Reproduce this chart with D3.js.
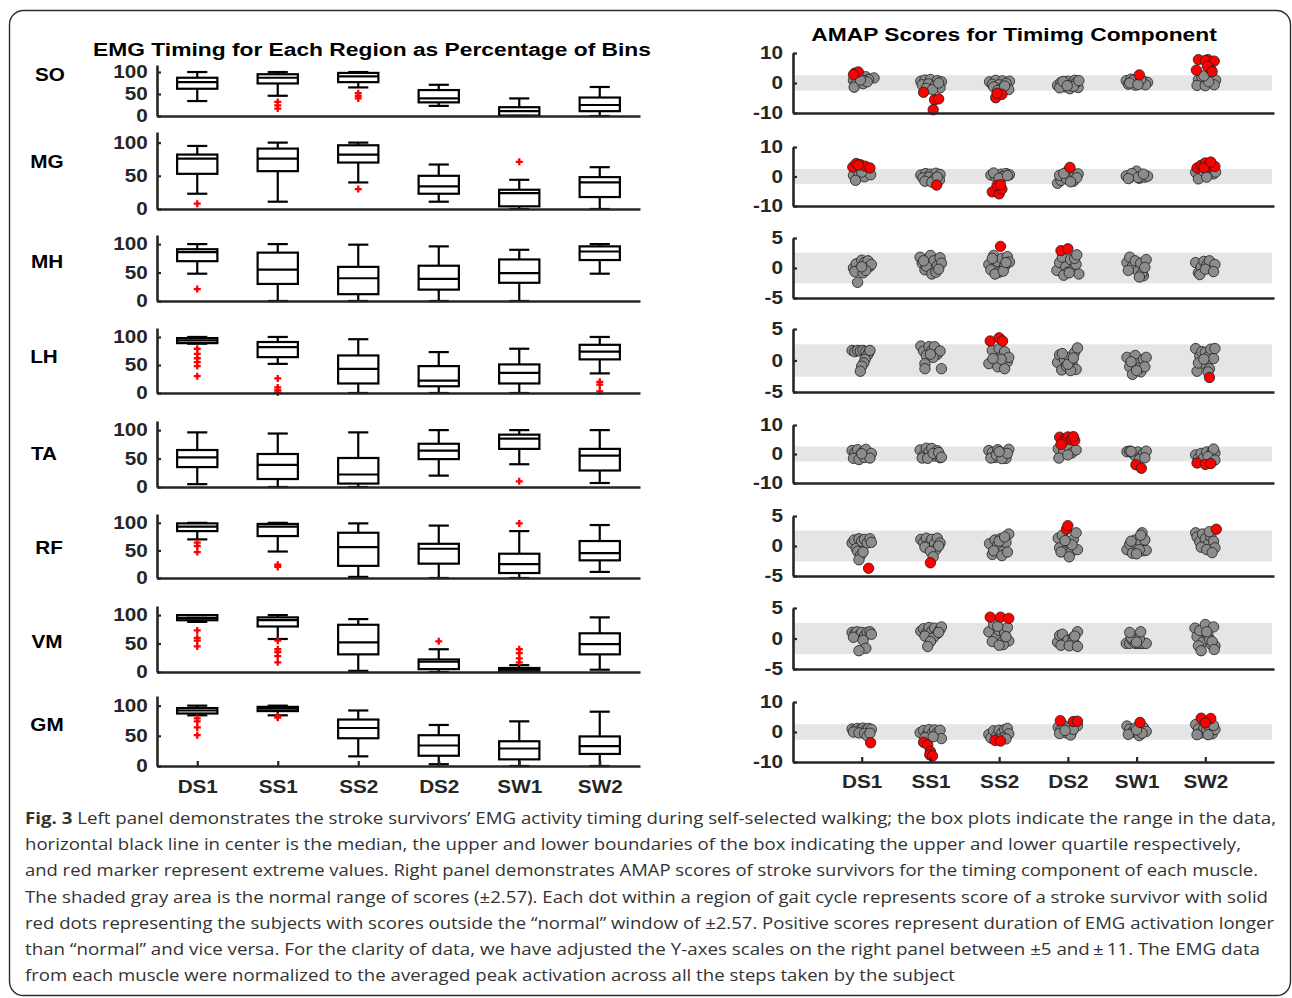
<!DOCTYPE html>
<html>
<head>
<meta charset="utf-8">
<script src="https://cdn.jsdelivr.net/npm/d3@7"></script>
<style>
  html, body { margin: 0; padding: 0; background: #fff; }
  svg { display: block; }
</style>
</head>
<body>
<svg id="fig" width="1292" height="998"></svg>
<script>
// ---------------- data ----------------
const categories = ["DS1", "SS1", "SS2", "DS2", "SW1", "SW2"];
const muscles = ["SO", "MG", "MH", "LH", "TA", "RF", "VM", "GM"];
const pctTicks = [0, 50, 100];

// EMG timing box statistics per phase: [lowerWhisker, q1, median, q3, upperWhisker, outliers]
const boxSO = [[34, 62, 77, 87, 100, []], [46, 74, 87, 95, 100, [32, 24, 17]], [65, 77, 90, 98, 100, [52, 46, 40]],
               [23, 31, 40, 59, 71, []], [0, 1, 11, 20, 40, []], [0, 11, 25, 42, 66, []]];
const boxMG = [[23, 53, 76, 82, 95, [8]], [11, 57, 76, 91, 100, []], [40, 70, 82, 96, 100, [30]],
               [11, 23, 34, 50, 67, []], [0, 4, 24, 29, 44, [71]], [0, 18, 40, 48, 63, []]];
const boxMH = [[48, 70, 86, 91, 100, [21]], [0, 30, 55, 85, 100, []], [0, 12, 40, 60, 99, []],
               [0, 20, 39, 62, 96, []], [0, 32, 49, 73, 90, []], [48, 72, 87, 96, 100, []]];
const boxLH = [[88, 89, 94, 98, 100, [79, 70, 62, 55, 48, 30]], [52, 64, 82, 91, 100, [26, 10, 5, 1]], [0, 17, 43, 67, 96, []],
               [0, 12, 22, 48, 73, []], [0, 17, 36, 51, 79, []], [35, 60, 74, 86, 100, [20, 15, 3]]];
const boxTA = [[5, 35, 52, 65, 96, []], [0, 14, 39, 58, 94, []], [0, 6, 22, 51, 96, []],
               [20, 49, 64, 76, 100, []], [40, 67, 85, 92, 100, [10]], [7, 29, 55, 67, 100, []]];
const boxRF = [[70, 85, 93, 99, 100, [64, 58, 47]], [48, 76, 93, 98, 100, [24, 20]], [2, 22, 56, 82, 99, []],
               [0, 26, 53, 62, 95, []], [0, 9, 25, 44, 85, [99]], [11, 32, 45, 67, 96, []]];
const boxVM = [[88, 91, 95, 100, 100, [73, 60, 55, 45]], [58, 80, 91, 96, 100, [55, 40, 35, 28, 17]], [2, 31, 52, 83, 93, []],
               [0, 5, 18, 22, 40, [54]], [0, 1, 4, 7, 12, [40, 33, 24, 17]], [4, 31, 49, 68, 96, []]];
const boxGM = [[84, 87, 92, 96, 100, [79, 74, 64, 51]], [84, 91, 95, 98, 100, [82, 80]], [16, 46, 63, 77, 92, []],
               [3, 17, 34, 51, 68, []], [0, 11, 29, 41, 74, []], [0, 20, 33, 49, 90, []]];
const boxStats = [boxSO, boxMG, boxMH, boxLH, boxTA, boxRF, boxVM, boxGM];

// AMAP timing scores per phase: [horizontal jitter (category units), score]
const scoreSO = [
  [[-0.10,3.3],[-0.05,3.7],[-0.12,2.8],[-0.08,2.0],[0.0,1.6],[0.06,2.1],[0.18,1.7],[0.10,1.2],[-0.12,0.9],[-0.04,0.3],[0.04,0.8],[-0.09,-0.5],[-0.11,-1.4],[0.02,-0.2],[0.08,0.4],[-0.02,1.0]],
  [[-0.14,0.6],[-0.08,1.0],[0.0,1.2],[0.10,0.8],[0.16,0.4],[-0.12,-0.6],[-0.03,-0.3],[0.07,-0.9],[0.14,-1.6],[-0.06,-1.8],[0.03,-2.2],[0.12,0.0],[-0.10,-3.1],[0.06,-5.6],[0.12,-5.3],[0.04,-8.9]],
  [[-0.14,0.4],[-0.05,0.9],[0.05,0.7],[0.15,0.6],[-0.10,-0.4],[0.0,-0.6],[0.10,-0.1],[-0.08,-1.3],[0.03,-1.8],[0.14,-2.2],[-0.02,-2.5],[0.08,-1.0],[-0.05,-4.9],[0.04,-3.8],[-0.03,-3.4]],
  [[-0.15,-0.8],[-0.10,0.2],[-0.04,-1.3],[0.0,0.6],[0.06,-0.4],[0.10,0.9],[0.15,-1.5],[-0.12,-1.6],[0.03,-1.9],[0.12,0.1],[-0.07,0.5],[0.08,-1.1],[0.16,0.8],[-0.01,-0.9]],
  [[-0.15,0.8],[-0.08,1.3],[0.0,0.3],[0.10,0.6],[0.16,0.2],[-0.12,-0.4],[-0.02,-0.7],[0.08,-0.2],[0.13,-0.6],[-0.05,0.9],[0.04,2.7],[0.06,1.1],[-0.10,0.0],[0.02,-0.5]],
  [[-0.10,7.8],[0.04,7.8],[0.0,7.5],[0.13,7.3],[-0.13,4.3],[0.08,4.5],[0.03,5.6],[0.10,3.8],[-0.10,1.1],[-0.05,2.0],[0.02,1.0],[0.08,1.4],[0.15,1.0],[-0.12,-0.8],[0.0,-0.9],[0.13,-0.6],[0.05,0.4],[-0.02,2.4]]
];
const scoreMG = [
  [[-0.13,3.2],[-0.08,4.4],[-0.02,4.0],[0.05,3.5],[0.12,2.9],[-0.05,3.9],[-0.10,2.0],[0.0,2.2],[0.08,2.0],[-0.12,0.4],[-0.04,0.9],[0.04,-0.1],[0.13,0.6],[-0.09,-1.3],[0.0,1.5]],
  [[-0.14,0.5],[-0.07,1.0],[0.0,0.8],[0.08,1.1],[0.14,0.7],[-0.11,-0.5],[-0.02,-0.2],[0.06,-0.8],[0.13,-1.2],[-0.08,-1.6],[0.02,-1.9],[0.10,-0.2],[0.09,-2.9]],
  [[-0.12,0.5],[-0.05,-0.1],[0.03,0.8],[0.10,1.0],[0.15,0.6],[0.06,0.0],[-0.08,1.2],[0.0,-0.6],[0.12,0.3],[-0.10,-5.2],[0.0,-5.9],[0.04,-4.3],[-0.03,-3.0],[0.02,-2.8]],
  [[-0.15,-2.3],[-0.10,-1.3],[-0.04,-0.2],[0.0,1.9],[0.06,1.3],[0.10,0.3],[0.15,0.9],[-0.12,0.4],[-0.02,-0.8],[0.08,-1.6],[0.13,-0.4],[0.04,-1.8],[0.03,3.1],[-0.06,1.0]],
  [[-0.15,0.2],[-0.10,-0.4],[-0.04,0.6],[0.0,1.8],[0.04,-0.6],[0.08,0.3],[0.12,-0.2],[0.16,0.1],[-0.07,1.0],[0.02,-0.3],[0.10,0.8],[-0.12,-0.7]],
  [[-0.12,2.9],[-0.06,3.8],[0.0,4.6],[0.05,3.3],[0.10,4.0],[0.14,3.4],[-0.02,3.0],[0.08,4.9],[-0.14,1.4],[-0.10,-0.8],[-0.03,1.9],[0.04,0.6],[0.12,0.9],[0.15,1.5],[0.02,-0.2]]
];
const scoreMH = [
  [[-0.12,0.0],[-0.08,0.7],[-0.04,-0.3],[0.0,1.3],[0.04,0.9],[0.09,1.2],[0.12,0.3],[0.14,0.6],[-0.10,-0.6],[0.02,-0.8],[0.06,-0.4],[-0.06,-2.4],[0.0,0.2]],
  [[-0.15,1.8],[-0.12,0.8],[-0.08,-0.3],[-0.03,1.5],[0.0,2.1],[0.05,1.2],[0.10,0.4],[0.14,1.7],[0.16,0.8],[-0.06,0.3],[0.02,-1.0],[0.08,-0.7],[0.12,-0.2],[-0.10,1.2]],
  [[-0.15,0.6],[-0.12,-0.3],[-0.08,2.1],[-0.03,1.1],[0.0,-0.7],[0.04,1.6],[0.08,0.3],[0.12,1.9],[0.15,1.0],[-0.06,-1.0],[0.06,-0.5],[-0.10,1.6],[0.02,3.6],[0.10,0.9]],
  [[-0.16,-0.4],[-0.12,0.9],[-0.08,1.8],[-0.03,0.2],[0.0,-0.7],[0.04,1.4],[0.08,-0.2],[0.12,0.6],[0.16,-1.0],[-0.06,-1.2],[0.02,-0.8],[0.10,1.6],[0.13,2.2],[-0.10,2.9],[0.0,3.2]],
  [[-0.14,0.9],[-0.10,1.8],[-0.06,0.3],[-0.02,1.2],[0.02,-0.5],[0.06,0.8],[0.10,-1.3],[0.14,1.4],[0.08,-0.9],[-0.12,-0.4],[0.04,-1.5],[0.12,0.1]],
  [[-0.14,0.9],[-0.10,-0.8],[-0.06,0.2],[-0.02,1.1],[0.02,0.5],[0.06,1.2],[0.10,-0.3],[0.14,0.6],[-0.08,-1.1],[0.0,-0.2],[0.12,-0.6]]
];
const scoreLH = [
  [[-0.14,1.6],[-0.10,1.4],[-0.06,1.6],[-0.02,1.5],[0.02,1.6],[0.06,1.4],[0.10,1.2],[0.08,0.8],[0.05,0.2],[0.03,-0.4],[0.0,-0.9],[-0.02,-1.7],[0.12,1.6]],
  [[-0.14,2.3],[-0.10,1.5],[-0.06,0.8],[-0.02,2.2],[0.02,1.6],[0.06,2.2],[0.10,1.0],[0.14,1.5],[0.04,0.5],[-0.08,-0.5],[-0.08,-1.3],[0.16,-1.3],[0.0,1.0]],
  [[-0.13,3.1],[0.0,3.6],[0.05,3.1],[-0.10,1.6],[-0.05,-0.3],[-0.15,-0.5],[0.0,1.9],[0.04,0.7],[0.08,1.4],[0.12,-0.2],[0.14,0.5],[-0.02,-1.0],[0.08,-1.3],[0.03,0.2],[-0.09,0.3]],
  [[-0.15,-0.3],[-0.12,0.9],[-0.09,-1.5],[-0.05,0.2],[-0.02,-0.9],[0.02,0.5],[0.06,-0.3],[0.10,1.3],[0.14,2.0],[0.12,-1.4],[0.04,-1.6],[-0.08,1.1],[0.0,-0.6],[0.08,0.4]],
  [[-0.14,0.5],[-0.10,-1.0],[-0.06,-2.2],[-0.02,0.8],[0.02,-0.5],[0.06,-1.8],[0.10,0.2],[0.14,0.5],[-0.08,-0.2],[0.04,-1.2],[0.12,-1.0],[0.0,-1.6]],
  [[-0.14,1.9],[-0.12,-1.7],[-0.08,0.7],[-0.05,1.4],[-0.10,-0.4],[0.0,1.3],[0.04,0.6],[0.08,1.8],[0.12,0.3],[0.14,1.9],[0.02,-0.8],[0.06,-1.3],[0.04,-1.8],[0.06,-2.7],[-0.02,0.2]]
];
const scoreTA = [
  [[-0.14,1.2],[-0.10,0.4],[-0.06,1.5],[-0.02,-0.4],[0.02,0.8],[0.06,1.6],[0.10,-0.9],[0.14,0.2],[-0.12,-1.5],[-0.04,-1.9],[0.04,-1.2],[0.12,-1.4],[0.0,0.1]],
  [[-0.15,1.4],[-0.10,-0.5],[-0.06,2.0],[-0.02,0.8],[0.02,1.9],[0.06,-0.7],[0.10,1.1],[0.14,-1.3],[-0.12,-1.4],[-0.04,-1.5],[0.04,0.2],[0.12,0.5],[0.16,-1.1]],
  [[-0.15,1.2],[-0.10,0.5],[-0.06,-1.2],[-0.02,1.5],[0.02,-0.6],[0.06,0.3],[0.10,-1.5],[0.14,1.6],[-0.12,-1.4],[-0.04,-0.4],[0.04,-1.6],[0.12,0.2],[0.0,0.8]],
  [[-0.12,5.8],[-0.04,5.2],[0.0,5.9],[0.05,4.9],[0.10,4.7],[-0.08,3.9],[0.08,6.0],[-0.10,3.3],[-0.14,1.8],[-0.06,1.0],[0.02,2.2],[0.06,0.4],[0.12,1.4],[-0.13,-1.4],[0.0,-0.3]],
  [[-0.14,0.8],[-0.10,1.0],[-0.06,0.3],[-0.02,-0.5],[0.02,0.7],[0.06,-1.0],[0.10,0.2],[0.14,1.0],[-0.08,0.9],[0.04,-1.9],[0.12,-1.3],[-0.01,-3.7],[0.07,-4.9]],
  [[-0.14,-0.3],[-0.10,-1.5],[-0.06,0.2],[-0.02,-1.3],[0.02,0.7],[0.06,-2.2],[0.10,0.8],[0.14,0.3],[0.12,1.7],[0.04,-0.9],[-0.12,-3.1],[0.0,-3.6],[0.08,-3.3],[0.14,-2.1]]
];
const scoreRF = [
  [[-0.14,0.5],[-0.11,1.0],[-0.08,-0.4],[-0.04,1.2],[0.0,0.8],[0.04,1.1],[0.08,0.5],[0.12,1.2],[0.14,0.6],[-0.06,-0.9],[-0.02,-1.6],[-0.04,-2.3],[0.02,-1.0],[0.10,-3.7]],
  [[-0.14,1.1],[-0.10,0.6],[-0.06,1.3],[-0.02,0.4],[0.02,1.1],[0.06,0.4],[0.10,1.3],[0.14,0.5],[-0.08,-0.2],[0.08,-0.6],[0.12,0.0],[0.0,-0.9],[0.04,-1.8],[0.0,-2.8]],
  [[-0.14,0.4],[-0.10,-1.4],[-0.06,1.0],[-0.02,0.2],[0.02,1.2],[0.06,-0.9],[0.10,0.6],[0.14,2.0],[-0.08,-0.8],[0.04,-1.6],[0.12,-1.0],[0.0,0.8],[0.08,1.5]],
  [[-0.14,1.3],[-0.12,-0.3],[-0.08,1.8],[-0.04,-0.8],[0.0,0.6],[0.04,-1.1],[0.08,1.1],[0.12,2.2],[0.14,-0.6],[-0.10,-1.0],[0.02,-1.8],[0.06,0.2],[-0.04,0.9],[-0.02,2.8],[0.0,3.4]],
  [[-0.14,-0.6],[-0.10,0.3],[-0.06,-1.2],[-0.02,1.0],[0.02,-0.3],[0.06,0.5],[0.10,-0.8],[0.14,-0.7],[0.08,2.2],[0.04,-0.6],[-0.08,0.8],[0.12,1.0],[0.0,-1.3],[0.06,1.8]],
  [[-0.14,2.2],[-0.12,1.5],[-0.08,0.7],[-0.04,2.0],[0.0,1.2],[0.04,0.3],[0.08,1.6],[0.12,0.8],[0.14,-0.3],[-0.06,-0.2],[0.02,-0.6],[0.10,-1.1],[0.06,2.4],[0.16,2.8]]
];
const scoreVM = [
  [[-0.14,1.0],[-0.10,0.8],[-0.07,1.1],[-0.03,0.6],[0.0,1.0],[0.04,0.4],[0.08,1.0],[0.12,1.1],[0.14,0.7],[-0.12,0.2],[0.02,-0.3],[0.06,-1.6],[-0.04,-2.0]],
  [[-0.14,1.2],[-0.10,1.6],[-0.06,0.9],[-0.02,1.8],[0.02,1.2],[0.06,1.7],[0.10,0.8],[0.14,1.5],[0.16,1.9],[-0.08,0.4],[0.04,0.1],[0.0,-0.5],[-0.04,-1.3],[0.12,1.0]],
  [[-0.13,3.5],[0.02,3.5],[0.14,3.3],[-0.15,1.1],[-0.08,2.3],[-0.04,0.2],[0.0,1.3],[0.04,-0.6],[0.08,0.9],[0.12,1.8],[0.14,-0.4],[-0.10,-0.5],[0.06,-1.0],[0.10,0.3],[-0.02,2.0],[0.0,-1.1]],
  [[-0.15,-0.6],[-0.12,0.5],[-0.08,0.7],[-0.04,-0.8],[0.0,-0.3],[0.04,-1.0],[0.08,0.2],[0.12,-1.1],[0.14,1.1],[-0.10,-1.1],[0.06,-0.7],[0.10,0.4],[0.02,-1.2],[0.14,-1.3]],
  [[-0.15,-0.8],[-0.10,-0.8],[-0.06,-0.3],[-0.02,-0.8],[0.02,-0.8],[0.06,-0.8],[0.10,-0.8],[0.14,-0.8],[-0.08,0.2],[0.04,0.0],[-0.10,1.0],[0.06,1.1],[0.0,-0.6]],
  [[-0.15,1.7],[-0.12,0.3],[-0.08,1.3],[-0.04,-0.6],[0.0,2.3],[0.04,0.5],[0.08,-0.9],[0.12,1.9],[0.14,-1.2],[-0.10,-1.2],[-0.06,-2.0],[0.06,-0.2],[0.10,-0.5],[0.02,1.1],[0.13,-1.8]]
];
const scoreGM = [
  [[-0.14,1.0],[-0.10,0.5],[-0.06,1.2],[-0.02,0.8],[0.02,1.3],[0.06,0.7],[0.10,1.2],[0.14,0.9],[-0.12,0.0],[-0.04,-0.3],[0.04,-0.5],[0.08,-1.3],[0.12,-0.4],[0.13,-3.6]],
  [[-0.15,-0.2],[-0.10,0.5],[-0.06,-1.2],[-0.02,0.8],[0.02,-0.6],[0.06,0.7],[0.10,-0.2],[0.14,0.6],[0.16,-2.2],[-0.08,-1.9],[0.04,-1.6],[-0.10,-3.4],[-0.04,-4.3],[0.0,-6.5],[-0.01,-7.6],[0.03,-8.0]],
  [[-0.15,-0.8],[-0.12,-2.0],[-0.08,0.4],[-0.04,-1.5],[0.0,0.6],[0.04,-0.3],[0.08,0.8],[0.12,1.2],[0.14,-0.6],[0.06,-1.9],[0.10,-2.3],[-0.02,-2.4],[-0.06,-2.8],[0.02,-3.0]],
  [[-0.14,1.6],[-0.10,0.9],[-0.06,2.2],[-0.02,-0.3],[0.02,1.4],[0.06,0.3],[0.10,1.8],[0.14,2.1],[-0.12,-0.5],[0.04,-1.0],[0.08,0.9],[-0.04,0.5],[-0.11,3.8],[0.08,3.5],[0.14,3.6]],
  [[-0.14,2.0],[-0.10,0.9],[-0.06,0.0],[-0.02,1.3],[0.02,-0.6],[0.06,0.6],[0.10,1.5],[0.14,0.2],[-0.12,-0.8],[0.04,-1.2],[0.08,-0.4],[0.0,0.7],[0.05,3.2]],
  [[-0.14,2.5],[-0.10,1.0],[-0.06,-0.3],[-0.02,1.3],[0.02,0.6],[0.06,1.8],[0.10,-0.6],[0.14,0.8],[-0.12,-0.9],[0.04,-0.9],[0.12,2.2],[-0.06,4.6],[0.08,4.5],[0.0,3.0]]
];
const scoreSets = [scoreSO, scoreMG, scoreMH, scoreLH, scoreTA, scoreRF, scoreVM, scoreGM];
const scoreLimits = [10, 10, 5, 5, 10, 5, 5, 10];
const normalWindow = 2.57;

const leftTitle = "EMG Timing for Each Region as Percentage of Bins";
const rightTitle = "AMAP Scores for Timimg Component";
const captionLabel = "Fig. 3";
const captionLines = [
  " Left panel demonstrates the stroke survivors\u2019 EMG activity timing during self-selected walking; the box plots indicate the range in the data,",
  "horizontal black line in center is the median, the upper and lower boundaries of the box indicating the upper and lower quartile respectively,",
  "and red marker represent extreme values. Right panel demonstrates AMAP scores of stroke survivors for the timing component of each muscle.",
  "The shaded gray area is the normal range of scores (\u00b12.57). Each dot within a region of gait cycle represents score of a stroke survivor with solid",
  "red dots representing the subjects with scores outside the \u201cnormal\u201d window of \u00b12.57. Positive scores represent duration of EMG activation longer",
  "than \u201cnormal\u201d and vice versa. For the clarity of data, we have adjusted the Y-axes scales on the right panel between \u00b15 and\u2009\u00b1\u200911. The EMG data",
  "from each muscle were normalized to the averaged peak activation across all the steps taken by the subject"
];

// ---------------- layout ----------------
const FIG_FONT = "'Liberation Sans', Arial, Helvetica, sans-serif";
const AX_COLOR = "#262626";
const FS = 18;                // figure lettering size
const SX = 1.15;              // horizontal stretch of the figure lettering
const leftRows  = [[65,116],[132,209],[235,301],[328,393],[421,487],[514,578],[606,672],[696,766]];
const rightRows = [[53,113],[147,206],[238,298],[329,392],[425,483],[516,576],[608,669],[702,762]];
const rowLabelPos = [[50,74],[47,161],[47,261],[44,356],[44,453],[49,547],[47,641],[47,724]];
const captionLineWidths = [1251, 1216, 1233, 1243, 1249, 1235, 930];
const pctMax = 116;

const svg = d3.select("#fig");
const xL = d3.scaleLinear().domain([0.5, 6.5]).range([157, 640]);
const xR = d3.scaleLinear().domain([0, 7]).range([793, 1274]);
const hyphenFormat = d => String(d);   // plain hyphen for negative ticks

// outer frame
svg.append("rect")
  .attr("x", 9.5).attr("y", 10.5).attr("width", 1281).attr("height", 985)
  .attr("rx", 14).attr("ry", 14)
  .attr("fill", "none").attr("stroke", "#2d2d2d").attr("stroke-width", 1.4);

function stretched(sel, sx) {
  return sel.attr("transform", `scale(${sx},1)`);
}

function styleAxis(g) {
  g.attr("font-family", FIG_FONT).attr("font-size", FS).attr("font-weight", "bold");
  g.select(".domain").attr("stroke", AX_COLOR).attr("stroke-width", 2.6);
  g.selectAll(".tick line").attr("stroke", AX_COLOR).attr("stroke-width", 2.2);
  g.selectAll(".tick text").attr("fill", AX_COLOR);
  stretched(g.selectAll(".tick text"), SX);
}

function title(text, x, y) {
  svg.append("g").attr("transform", `translate(${x},${y})`)
    .append("text").attr("text-anchor", "middle")
    .attr("font-family", FIG_FONT).attr("font-weight", "bold").attr("font-size", 19)
    .attr("fill", "#000").attr("transform", "scale(1.2,1)").text(text);
}
title(leftTitle, 372, 56);
title(rightTitle, 1014, 41);

// ---------------- left panel: box plots ----------------
muscles.forEach((m, i) => {
  const [top, bottom] = leftRows[i];
  const y = d3.scaleLinear().domain([0, pctMax]).range([bottom, top]);
  const last = i === muscles.length - 1;

  // muscle label
  svg.append("g").attr("transform", `translate(${rowLabelPos[i][0]},${rowLabelPos[i][1] + 6.5})`)
    .append("text").attr("text-anchor", "middle")
    .attr("font-family", FIG_FONT).attr("font-weight", "bold").attr("font-size", FS)
    .attr("fill", "#000").attr("transform", `scale(${SX},1)`).text(m);

  const row = svg.append("g");
  const stats = boxStats[i];
  const half = 0.25, cap = 0.125;

  const grp = row.selectAll("g.box").data(stats).join("g").attr("class", "box");
  grp.append("line")   // upper whisker
    .attr("x1", (d, j) => xL(j + 1)).attr("x2", (d, j) => xL(j + 1))
    .attr("y1", d => y(d[3])).attr("y2", d => y(d[4]));
  grp.append("line")   // lower whisker
    .attr("x1", (d, j) => xL(j + 1)).attr("x2", (d, j) => xL(j + 1))
    .attr("y1", d => y(d[1])).attr("y2", d => y(d[0]));
  grp.append("line")   // upper cap
    .attr("x1", (d, j) => xL(j + 1 - cap)).attr("x2", (d, j) => xL(j + 1 + cap))
    .attr("y1", d => y(d[4])).attr("y2", d => y(d[4]));
  grp.append("line")   // lower cap
    .attr("x1", (d, j) => xL(j + 1 - cap)).attr("x2", (d, j) => xL(j + 1 + cap))
    .attr("y1", d => y(d[0])).attr("y2", d => y(d[0]));
  grp.append("rect")   // interquartile box
    .attr("x", (d, j) => xL(j + 1 - half)).attr("width", (d, j) => xL(j + 1 + half) - xL(j + 1 - half))
    .attr("y", d => y(d[3])).attr("height", d => y(d[1]) - y(d[3]))
    .attr("fill", "none");
  grp.append("line")   // median
    .attr("x1", (d, j) => xL(j + 1 - half)).attr("x2", (d, j) => xL(j + 1 + half))
    .attr("y1", d => y(d[2])).attr("y2", d => y(d[2]));
  grp.selectAll("line, rect").attr("stroke", "#000").attr("stroke-width", 2.2);

  // outliers
  grp.each(function (d, j) {
    d3.select(this).selectAll("path.out").data(d[5]).join("path")
      .attr("class", "out")
      .attr("transform", v => `translate(${xL(j + 1)},${y(v)})`)
      .attr("d", "M-3.5,0H3.5M0,-3.5V3.5")
      .attr("stroke", "#ff0000").attr("stroke-width", 2.3).attr("fill", "none");
  });

  // axes
  const gy = svg.append("g").attr("transform", `translate(${xL.range()[0]},0)`)
    .call(d3.axisLeft(y).tickValues(pctTicks).tickSize(-4).tickSizeOuter(0).tickPadding(8));
  styleAxis(gy);

  const gx = svg.append("g").attr("transform", `translate(0,${bottom})`)
    .call(d3.axisBottom(xL).tickValues(last ? d3.range(1, 7) : [])
      .tickFormat(d => categories[d - 1]).tickSize(-5).tickSizeOuter(0).tickPadding(14.2));
  styleAxis(gx);
});

// ---------------- right panel: AMAP scores ----------------
muscles.forEach((m, i) => {
  const [top, bottom] = rightRows[i];
  const L = scoreLimits[i];
  const y = d3.scaleLinear().domain([-L, L]).range([bottom, top]);
  const last = i === muscles.length - 1;

  // normal window
  svg.append("rect")
    .attr("x", xR(0)).attr("width", xR(7) - xR(0) - 2)
    .attr("y", y(normalWindow)).attr("height", y(-normalWindow) - y(normalWindow))
    .attr("fill", "#e5e5e5");

  const pts = [];
  scoreSets[i].forEach((grpPts, j) => grpPts.forEach(p => pts.push({ c: j + 1, dx: p[0], v: p[1] })));
  pts.sort((a, b) => (Math.abs(a.v) > normalWindow) - (Math.abs(b.v) > normalWindow));

  svg.append("g").selectAll("circle").data(pts).join("circle")
    .attr("cx", d => xR(d.c + d.dx)).attr("cy", d => y(d.v)).attr("r", 5.2)
    .attr("fill", d => Math.abs(d.v) > normalWindow ? "#ff0000" : "#8c8c8c")
    .attr("stroke", "#1e1e1e").attr("stroke-width", 0.8);

  const gy = svg.append("g").attr("transform", `translate(${xR.range()[0]},0)`)
    .call(d3.axisLeft(y).tickValues([-L, 0, L]).tickFormat(hyphenFormat)
      .tickSize(-4).tickSizeOuter(0).tickPadding(8.7));
  styleAxis(gy);

  const gx = svg.append("g").attr("transform", `translate(0,${bottom})`)
    .call(d3.axisBottom(xR).tickValues(last ? d3.range(1, 7) : [])
      .tickFormat(d => categories[d - 1]).tickSize(-5).tickSizeOuter(0).tickPadding(13.2));
  styleAxis(gx);
});

// ---------------- caption ----------------
const CAP_FONT = "'Open Sans', 'Noto Sans', sans-serif";
const cap = svg.append("g").attr("font-family", CAP_FONT).attr("fill", "#333");
captionLines.forEach((line, k) => {
  const t = cap.append("text").attr("x", 25).attr("y", 824 + k * 26.2).attr("font-size", 16.8)
    .attr("textLength", captionLineWidths[k]).attr("lengthAdjust", "spacingAndGlyphs");
  if (k === 0) t.append("tspan").attr("font-weight", "bold").text(captionLabel);
  t.append("tspan").text(line);
});
</script>
</body>
</html>
